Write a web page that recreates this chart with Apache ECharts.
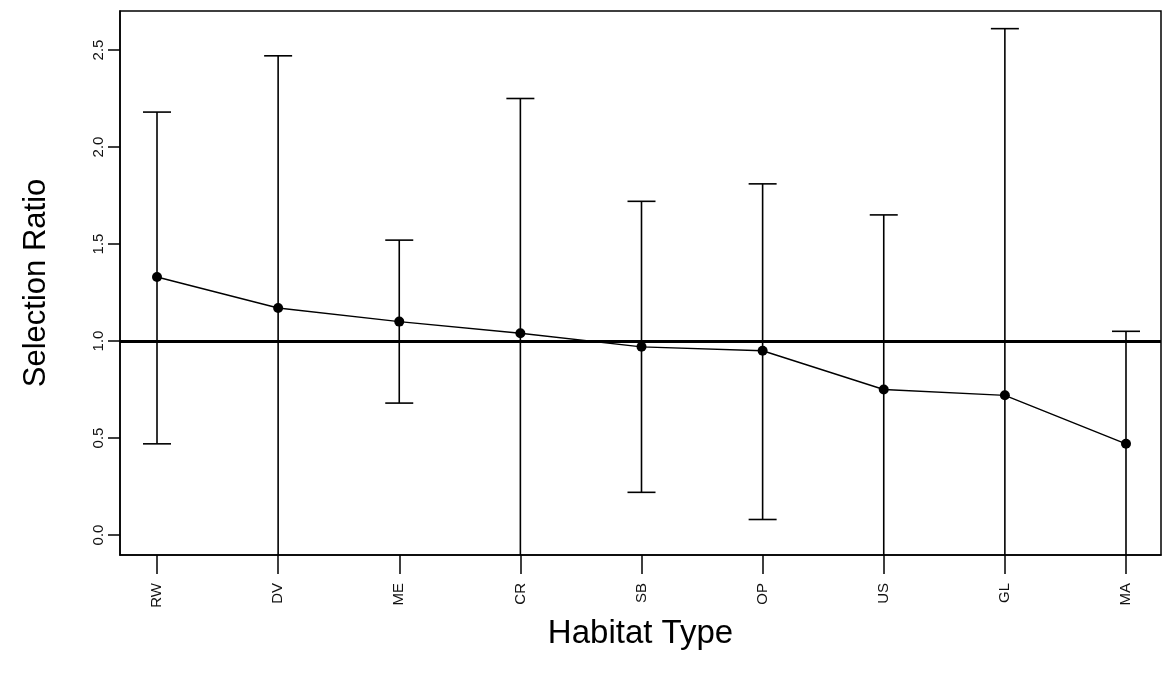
<!DOCTYPE html>
<html>
<head>
<meta charset="utf-8">
<script src="https://cdn.jsdelivr.net/npm/echarts@6/dist/echarts.min.js"></script>
<style>
html,body{margin:0;padding:0;background:#fff;}
#chart{width:1168px;height:679px;}
</style>
</head>
<body>
<div id="chart"></div>
<script>
// Data
const categories = ['RW', 'DV', 'ME', 'CR', 'SB', 'OP', 'US', 'GL', 'MA'];
const ratio = [1.33, 1.17, 1.10, 1.04, 0.97, 0.95, 0.75, 0.72, 0.47];
const upper = [2.18, 2.47, 1.52, 2.25, 1.72, 1.81, 1.65, 2.61, 1.05];
const lower = [0.47, -0.40, 0.68, -0.30, 0.22, 0.08, -0.20, -0.60, -0.20];
const yTicks = [0, 0.5, 1.0, 1.5, 2.0, 2.5];
const yTickLabels = ['0.0', '0.5', '1.0', '1.5', '2.0', '2.5'];
const refLine = 1.0;

const xPos = categories.map((c, i) => i + 1);
const Y_MIN = -0.103, Y_MAX = 2.701;
const X_MIN = 0.6945, X_MAX = 9.289;
const FONT = '"Liberation Sans", Arial, sans-serif';

const chart = echarts.init(document.getElementById('chart'), null, {renderer: 'canvas'});

const option = {
  animation: false,
  backgroundColor: '#fff',
  grid: {
    left: 120, right: 7, top: 11, bottom: 124,
    show: true, borderColor: '#000', borderWidth: 1.5, backgroundColor: 'transparent'
  },
  xAxis: {
    type: 'value', min: X_MIN, max: X_MAX,
    name: 'Habitat Type', nameLocation: 'middle', nameGap: 62,
    nameTextStyle: {fontFamily: FONT, fontSize: 33, color: '#000'},
    axisLine: {show: true, onZero: false, lineStyle: {color: '#000', width: 1.5}},
    axisTick: {show: true, length: 19, inside: false, customValues: xPos, lineStyle: {color: '#000', width: 1.5}},
    axisLabel: {
      customValues: xPos, rotate: 90, margin: 28,
      fontFamily: FONT, fontSize: 15, color: '#111',
      formatter: v => categories[Math.round(v) - 1] || ''
    },
    splitLine: {show: false}
  },
  yAxis: {
    type: 'value', min: Y_MIN, max: Y_MAX,
    name: 'Selection Ratio', nameLocation: 'middle', nameGap: 68, nameRotate: 90,
    nameTextStyle: {fontFamily: FONT, fontSize: 31, color: '#000'},
    axisLine: {show: true, onZero: false, lineStyle: {color: '#000', width: 1.5}},
    axisTick: {show: true, length: 12, inside: false, customValues: yTicks, lineStyle: {color: '#000', width: 1.5}},
    axisLabel: {
      customValues: yTicks, rotate: 90, margin: 14,
      fontFamily: FONT, fontSize: 15, color: '#111',
      formatter: v => { const i = yTicks.findIndex(t => Math.abs(t - v) < 1e-6); return i >= 0 ? yTickLabels[i] : ''; }
    },
    splitLine: {show: false}
  },
  series: [
    {
      type: 'custom',
      name: 'ci',
      data: categories.map((c, i) => [xPos[i], lower[i], upper[i]]),
      encode: {x: 0, y: [1, 2]},
      renderItem: function (params, api) {
        const x = api.value(0);
        const lo = api.value(1), hi = api.value(2);
        const loC = Math.max(lo, Y_MIN), hiC = Math.min(hi, Y_MAX);
        const pTop = api.coord([x, hiC]);
        const pBot = api.coord([x, loC]);
        const half = 14;
        const style = {stroke: '#000', lineWidth: 1.6};
        const children = [{
          type: 'line', shape: {x1: pTop[0], y1: pTop[1], x2: pBot[0], y2: pBot[1]}, style: style
        }];
        if (hi <= Y_MAX) children.push({type: 'line', shape: {x1: pTop[0] - half, y1: pTop[1], x2: pTop[0] + half, y2: pTop[1]}, style: style});
        if (lo >= Y_MIN) children.push({type: 'line', shape: {x1: pBot[0] - half, y1: pBot[1], x2: pBot[0] + half, y2: pBot[1]}, style: style});
        return {type: 'group', children: children};
      },
      z: 2
    },
    {
      type: 'line',
      name: 'ratio',
      data: categories.map((c, i) => [xPos[i], ratio[i]]),
      symbol: 'circle', symbolSize: 10,
      itemStyle: {color: '#000'},
      lineStyle: {color: '#000', width: 1.4},
      markLine: {
        silent: true, symbol: 'none', label: {show: false},
        lineStyle: {color: '#000', width: 3, type: 'solid'},
        data: [{yAxis: refLine}]
      },
      z: 3
    }
  ]
};
chart.setOption(option);
</script>
</body>
</html>
